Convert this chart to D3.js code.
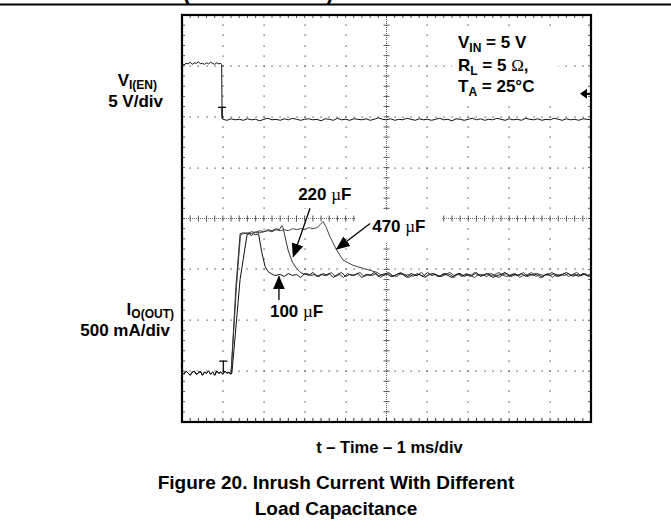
<!DOCTYPE html>
<html>
<head>
<meta charset="utf-8">
<script src="https://cdn.jsdelivr.net/npm/d3@7"></script>
<style>
  body { margin: 0; background: #fff; }
  svg text { font-family: "Liberation Sans", Arial, Helvetica, sans-serif; font-weight: bold; fill: #000; }
  svg .serif { font-family: "Liberation Serif", "Times New Roman", serif; font-weight: normal; }
</style>
</head>
<body>
<script>
"use strict";

// scope settings: 10 x 8 divisions, 1 ms/div
var timeDomain = [0, 10];
var divDomain = [0, 8];
var vPerDiv = 5, vZeroDiv = 5.97;      // V_I(EN), 5 V/div
var iPerDiv = 0.5, iZeroDiv = 0.96;    // I_O(OUT), 500 mA/div
var trigTime = 0.98;
var trigLevel = 2.4;                   // V

// V_I(EN) trace [ms, V]
var vEn = [
  [0,5.3],[0.05,5.25],[0.1,5.4],[0.15,5.35],[0.2,5.5],[0.25,5.3],[0.3,5.45],[0.35,5.4],[0.4,5.55],[0.45,5.35],
  [0.5,5.4],[0.55,5.3],[0.6,5.45],[0.65,5.35],[0.7,5.5],[0.75,5.4],[0.8,5.3],[0.85,5.45],[0.9,5.35],[0.95,5.4],
  [0.97,5.3],[0.98,0.2],[1.0,-0.1],
  [1.1,-0.2],[1.2,-0.05],[1.3,-0.15],[1.4,-0.1],[1.5,-0.2],[1.6,-0.05],[1.7,-0.15],[1.8,-0.1],[1.9,-0.25],[2.0,-0.1],
  [2.1,0.0],[2.2,-0.15],[2.3,-0.1],[2.4,-0.2],[2.5,-0.05],[2.6,-0.15],[2.7,0.0],[2.8,-0.1],[2.9,-0.2],[3.0,-0.1],
  [3.1,-0.05],[3.2,-0.15],[3.3,-0.1],[3.4,-0.25],[3.5,-0.05],[3.6,-0.1],[3.7,-0.2],[3.8,0.0],[3.9,-0.15],[4.0,-0.1],
  [4.1,-0.2],[4.2,-0.05],[4.3,-0.1],[4.4,-0.15],[4.5,-0.05],[4.6,-0.2],[4.7,-0.1],[4.8,0.05],[4.9,-0.1],[5.0,-0.15],
  [5.1,-0.05],[5.2,-0.2],[5.3,-0.1],[5.4,-0.15],[5.5,0.0],[5.6,-0.1],[5.7,-0.2],[5.8,-0.05],[5.9,-0.15],[6.0,-0.1],
  [6.1,-0.2],[6.2,-0.1],[6.3,0.0],[6.4,-0.15],[6.5,-0.1],[6.6,-0.25],[6.7,-0.05],[6.8,-0.1],[6.9,-0.2],[7.0,-0.1],
  [7.1,0.0],[7.2,-0.15],[7.3,-0.05],[7.4,-0.2],[7.5,-0.1],[7.6,-0.15],[7.7,0.0],[7.8,-0.1],[7.9,-0.2],[8.0,-0.05],
  [8.1,-0.15],[8.2,-0.1],[8.3,-0.2],[8.4,0.0],[8.5,-0.1],[8.6,-0.15],[8.7,-0.05],[8.8,-0.2],[8.9,-0.1],[9.0,-0.15],
  [9.1,0.0],[9.2,-0.1],[9.3,-0.2],[9.4,-0.05],[9.5,-0.15],[9.6,-0.1],[9.7,-0.2],[9.8,-0.05],[9.9,-0.1],[10,-0.15]
];

// I_O(OUT) before the switch turns on [ms, A]
var iBase = [
  [0,0.01],[0.05,-0.01],[0.1,0.02],[0.15,0],[0.2,-0.02],[0.25,0.01],[0.3,0.02],[0.35,-0.01],[0.4,0],[0.45,0.02],
  [0.5,-0.02],[0.55,0.01],[0.6,0],[0.65,0.02],[0.7,-0.01],[0.75,0.01],[0.8,-0.02],[0.85,0.02],[0.9,0],[0.95,0.01],
  [1.0,-0.01],[1.05,0.02],[1.1,0],[1.15,0.01],[1.19,-0.01]
];

// 100 uF
var i100 = [
  [1.22,0],[1.42,0.92],[1.59,1.36],[1.65,1.37],[1.7,1.35],[1.75,1.37],[1.8,1.36],[1.87,1.37],
  [1.95,1.19],[2.03,1.05],[2.1,1.0],[2.17,0.98],[2.27,0.96],
  [2.4,0.97],[2.5,0.95],[2.6,0.98],[2.7,0.96],[2.8,0.97],[2.9,0.94],[3.0,0.98],[3.1,0.96],[3.2,0.99],[3.3,0.95],
  [3.4,0.97],[3.5,0.96],[3.6,0.98],[3.7,0.94],[3.8,0.97],[3.9,0.99],[4.0,0.95],[4.1,0.97],[4.2,0.96],[4.3,0.98],
  [4.4,0.94],[4.5,0.97],[4.6,0.96],[4.7,0.99],[4.8,0.95],[4.9,0.97],[5.0,0.98],[5.1,0.95],[5.2,0.96],[5.3,0.98],
  [5.4,0.97],[5.5,0.94],[5.6,0.98],[5.7,0.96],[5.8,0.97],[5.9,0.95],[6.0,0.99],[6.1,0.96],[6.2,0.97],[6.3,0.95],
  [6.4,0.98],[6.5,0.96],[6.6,0.94],[6.7,0.97],[6.8,0.98],[6.9,0.95],[7.0,0.97],[7.1,0.96],[7.2,0.99],[7.3,0.95],
  [7.4,0.97],[7.5,0.98],[7.6,0.94],[7.7,0.96],[7.8,0.97],[7.9,0.99],[8.0,0.95],[8.1,0.97],[8.2,0.96],[8.3,0.98],
  [8.4,0.95],[8.5,0.97],[8.6,0.96],[8.7,0.98],[8.8,0.94],[8.9,0.97],[9.0,0.96],[9.1,0.98],[9.2,0.95],[9.3,0.97],
  [9.4,0.99],[9.5,0.96],[9.6,0.97],[9.7,0.95],[9.8,0.98],[9.9,0.96],[10,0.97]
];

// 220 uF
var i220 = [
  [1.2,0],[1.32,0.86],[1.42,1.37],[1.5,1.38],[1.6,1.37],[1.7,1.39],[1.8,1.38],[1.9,1.4],[2.0,1.39],[2.1,1.41],
  [2.2,1.4],[2.3,1.42],[2.38,1.41],[2.44,1.45],[2.47,1.43],[2.52,1.34],[2.6,1.2],[2.7,1.09],[2.8,1.03],[2.9,0.99],
  [3.0,0.97],[3.05,0.98],[3.15,0.96],[3.25,0.97],[3.35,0.95],[3.45,0.98],[3.55,0.96],[3.65,0.99],[3.75,0.95],[3.85,0.97],
  [3.95,0.94],[4.05,0.98],[4.15,0.96],[4.25,0.97],[4.35,0.99],[4.45,0.95],[4.55,0.97],[4.65,0.96],[4.75,0.98],[4.85,0.94],
  [4.95,0.97],[5.05,0.99],[5.15,0.96],[5.25,0.95],[5.35,0.98],[5.45,0.97],[5.55,0.94],[5.65,0.97],[5.75,0.96],[5.85,0.99],
  [5.95,0.95],[6.05,0.97],[6.15,0.98],[6.25,0.95],[6.35,0.96],[6.45,0.98],[6.55,0.97],[6.65,0.94],[6.75,0.98],[6.85,0.96],
  [6.95,0.97],[7.05,0.95],[7.15,0.99],[7.25,0.96],[7.35,0.97],[7.45,0.95],[7.55,0.98],[7.65,0.96],[7.75,0.94],[7.85,0.97],
  [7.95,0.98],[8.05,0.95],[8.15,0.97],[8.25,0.96],[8.35,0.99],[8.45,0.95],[8.55,0.97],[8.65,0.98],[8.75,0.94],[8.85,0.96],
  [8.95,0.97],[9.05,0.99],[9.15,0.95],[9.25,0.97],[9.35,0.96],[9.45,0.98],[9.55,0.95],[9.65,0.97],[9.75,0.96],[9.85,0.98],
  [9.95,0.95],[10,0.97]
];

// 470 uF
var i470 = [
  [1.2,0],[1.33,0.84],[1.43,1.36],[1.5,1.37],[1.6,1.38],[1.7,1.37],[1.8,1.39],[1.9,1.38],[2.0,1.39],[2.1,1.4],
  [2.2,1.39],[2.3,1.41],[2.4,1.4],[2.5,1.41],[2.6,1.4],[2.7,1.42],[2.8,1.41],[2.9,1.42],[3.0,1.41],[3.1,1.43],
  [3.2,1.42],[3.3,1.43],[3.38,1.46],[3.45,1.49],[3.52,1.44],[3.62,1.34],[3.78,1.21],[3.94,1.11],[4.18,1.06],[4.43,1.03],
  [4.6,1.01],[4.77,0.99],[4.85,0.97],[4.95,0.96],[5.05,0.98],[5.15,0.95],[5.25,0.97],[5.35,0.99],[5.45,0.96],[5.55,0.97],
  [5.65,0.95],[5.75,0.98],[5.85,0.96],[5.95,0.94],[6.05,0.97],[6.15,0.98],[6.25,0.96],[6.35,0.95],[6.45,0.97],[6.55,0.99],
  [6.65,0.96],[6.75,0.97],[6.85,0.95],[6.95,0.98],[7.05,0.96],[7.15,0.94],[7.25,0.97],[7.35,0.96],[7.45,0.98],[7.55,0.95],
  [7.65,0.97],[7.75,0.99],[7.85,0.96],[7.95,0.95],[8.05,0.97],[8.15,0.98],[8.25,0.94],[8.35,0.96],[8.45,0.97],[8.55,0.99],
  [8.65,0.95],[8.75,0.97],[8.85,0.96],[8.95,0.98],[9.05,0.94],[9.15,0.97],[9.25,0.96],[9.35,0.98],[9.45,0.95],[9.55,0.97],
  [9.65,0.99],[9.75,0.96],[9.85,0.97],[9.95,0.95],[10,0.96]
];

// labels: value text, label start [ms, A], arrow tail and tip [ms, A]
var capNames = ['100', '220', '470'];
var capLabelAt = [[2.15, 0.555], [2.84, 1.70], [4.65, 1.39]];
var capArrowTail = [[2.37, 0.72], [3.13, 1.62], [4.60, 1.47]];
var capArrowTip = [[2.37, 0.95], [2.72, 1.145], [3.78, 1.22]];

// white box padding round each label [left, right, top, bottom], px
var capPad = [[10, 18, 3, 6], [5, 17, 5, 4], [17, 17, 6, 7]];

var width = 671, height = 529;
var margin = { top: 15, right: 80, bottom: 107, left: 182 };

var svg = d3.select('body').append('svg')
  .attr('width', width)
  .attr('height', height);

var x = d3.scaleLinear()
  .domain(timeDomain)
  .range([margin.left, width - margin.right]);

var yDiv = d3.scaleLinear()
  .domain(divDomain)
  .range([height - margin.bottom, margin.top]);

var yV = d3.scaleLinear()
  .domain([-vZeroDiv * vPerDiv, (divDomain[1] - vZeroDiv) * vPerDiv])
  .range(yDiv.range());

var yI = d3.scaleLinear()
  .domain([-iZeroDiv * iPerDiv, (divDomain[1] - iZeroDiv) * iPerDiv])
  .range(yDiv.range());

// page header remains (cut off at top)
svg.append('line')
  .attr('x1', 0).attr('x2', width)
  .attr('y1', 4.5).attr('y2', 4.5)
  .attr('stroke', '#000').attr('stroke-width', 2);
svg.append('text').attr('x', 183).attr('y', 0).style('font-size', '22px').text('(');
svg.append('text').attr('x', 326).attr('y', 0).style('font-size', '22px').text(')');

// graticule
var grid = svg.append('g').attr('class', 'graticule');
var dots = [];
d3.range(1, 8).forEach(function (r) {
  if (r === 4) { return; }
  d3.range(51).forEach(function (k) { dots.push([k * 0.2, r]); });
});
d3.range(1, 10).forEach(function (c) {
  if (c === 5) { return; }
  d3.range(41).forEach(function (k) { dots.push([c, k * 0.2]); });
});
grid.selectAll('rect.dot')
  .data(dots)
  .join('rect')
  .attr('class', 'dot')
  .attr('x', function (d) { return Math.round(x(d[0])) - 0.5; })
  .attr('y', function (d) { return Math.round(yDiv(d[1])) - 0.5; })
  .attr('width', 1.2)
  .attr('height', 1.2)
  .attr('fill', '#444');

// center cross with minor ticks
var cy = yDiv(4), cx = x(5);
grid.append('line')
  .attr('x1', x(0)).attr('x2', x(10)).attr('y1', cy).attr('y2', cy)
  .attr('stroke', '#666').attr('stroke-dasharray', '1,1');
grid.append('line')
  .attr('x1', cx).attr('x2', cx).attr('y1', yDiv(0)).attr('y2', yDiv(8))
  .attr('stroke', '#666').attr('stroke-dasharray', '1,1');
grid.selectAll('line.hTick')
  .data(d3.range(51))
  .join('line')
  .attr('class', 'hTick')
  .attr('x1', function (k) { return x(k * 0.2); })
  .attr('x2', function (k) { return x(k * 0.2); })
  .attr('y1', cy - 3).attr('y2', cy + 3)
  .attr('stroke', '#555');
grid.selectAll('line.vTick')
  .data(d3.range(41))
  .join('line')
  .attr('class', 'vTick')
  .attr('y1', function (k) { return yDiv(k * 0.2); })
  .attr('y2', function (k) { return yDiv(k * 0.2); })
  .attr('x1', cx - 3).attr('x2', cx + 3)
  .attr('stroke', '#555');

// border ticks
grid.selectAll('line.bTick')
  .data(d3.range(51))
  .join('line')
  .attr('class', 'bTick')
  .attr('x1', function (k) { return x(k * 0.2); })
  .attr('x2', function (k) { return x(k * 0.2); })
  .attr('y1', yDiv(0)).attr('y2', yDiv(0) - 4)
  .attr('stroke', '#333');
grid.selectAll('line.tTick')
  .data(d3.range(51))
  .join('line')
  .attr('class', 'tTick')
  .attr('x1', function (k) { return x(k * 0.2); })
  .attr('x2', function (k) { return x(k * 0.2); })
  .attr('y1', yDiv(8)).attr('y2', yDiv(8) + 3)
  .attr('stroke', '#555');
grid.selectAll('line.lTick')
  .data(d3.range(41))
  .join('line')
  .attr('class', 'lTick')
  .attr('y1', function (k) { return yDiv(k * 0.2); })
  .attr('y2', function (k) { return yDiv(k * 0.2); })
  .attr('x1', x(0)).attr('x2', x(0) + 3)
  .attr('stroke', '#555');
grid.selectAll('line.rTick')
  .data(d3.range(41))
  .join('line')
  .attr('class', 'rTick')
  .attr('y1', function (k) { return yDiv(k * 0.2); })
  .attr('y2', function (k) { return yDiv(k * 0.2); })
  .attr('x1', x(10)).attr('x2', x(10) - 3)
  .attr('stroke', '#555');

// white boxes behind annotations are drawn after the text is measured
var boxLayer = svg.append('g');

// traces
var lineV = d3.line()
  .x(function (d) { return x(d[0]); })
  .y(function (d) { return yV(d[1]); });
var lineI = d3.line()
  .x(function (d) { return x(d[0]); })
  .y(function (d) { return yI(d[1]); });

var traces = svg.append('g').attr('fill', 'none').attr('stroke-width', 1);
traces.append('path').attr('d', lineV(vEn)).attr('stroke', '#111');
traces.append('path').attr('d', lineI(iBase.concat(i470))).attr('stroke', '#444');
traces.append('path').attr('d', lineI(iBase.concat(i220))).attr('stroke', '#333');
traces.append('path').attr('d', lineI(iBase.concat(i100))).attr('stroke', '#111');

// trigger position markers
function drawT(px, py) {
  svg.append('path')
    .attr('d', 'M' + (px - 4) + ',' + (py - 11) + 'H' + (px + 4) + 'M' + px + ',' + (py - 11) + 'V' + py)
    .attr('stroke', '#000').attr('stroke-width', 1.2).attr('fill', 'none');
}
drawT(x(trigTime), yV(0));
drawT(x(trigTime + 0.03), yI(0) - 1);

// trigger level arrow at right edge
var ty = yV(trigLevel);
svg.append('path')
  .attr('d', 'M' + (x(10) - 11) + ',' + ty + 'L' + (x(10) - 4) + ',' + (ty - 5) + 'L' + (x(10) - 4) + ',' + (ty + 5) + 'Z')
  .attr('fill', '#000');
svg.append('line')
  .attr('x1', x(10) - 6).attr('x2', x(10)).attr('y1', ty).attr('y2', ty)
  .attr('stroke', '#000').attr('stroke-width', 2);

// frame
svg.append('rect')
  .attr('x', x(0)).attr('y', yDiv(8))
  .attr('width', x(10) - x(0)).attr('height', yDiv(0) - yDiv(8))
  .attr('fill', 'none').attr('stroke', '#000').attr('stroke-width', 2.2);

// conditions box
var cond = svg.append('g').style('font-size', '17px');
var c1 = cond.append('text').attr('x', 458).attr('y', 48);
c1.append('tspan').text('V');
c1.append('tspan').attr('dy', 3.5).style('font-size', '12px').text('IN');
c1.append('tspan').attr('dy', -3.5).text(' = 5 V');
var c2 = cond.append('text').attr('x', 458).attr('y', 71);
c2.append('tspan').text('R');
c2.append('tspan').attr('dy', 3.5).style('font-size', '12px').text('L');
c2.append('tspan').attr('dy', -3.5).text(' = 5 ');
c2.append('tspan').attr('class', 'serif').text('\u03A9');
c2.append('tspan').text(',');
var c3 = cond.append('text').attr('x', 458).attr('y', 92);
c3.append('tspan').text('T');
c3.append('tspan').attr('dy', 3.5).style('font-size', '12px').text('A');
c3.append('tspan').attr('dy', -3.5).text(' = 25\u00B0C');

var cb = cond.node().getBBox();
boxLayer.append('rect')
  .attr('x', cb.x - 6).attr('y', cb.y - 5)
  .attr('width', cb.width + 30).attr('height', cb.height + 8)
  .attr('fill', '#fff');

// capacitance labels with arrows
var defs = svg.append('defs');
defs.append('marker')
  .attr('id', 'head')
  .attr('viewBox', '0 0 14 12')
  .attr('markerUnits', 'userSpaceOnUse')
  .attr('markerWidth', 14).attr('markerHeight', 12)
  .attr('refX', 13).attr('refY', 6)
  .attr('orient', 'auto')
  .append('path').attr('d', 'M0,0L14,6L0,12Z').attr('fill', '#000');

capNames.forEach(function (name, i) {
  var t = svg.append('text')
    .attr('x', x(capLabelAt[i][0]))
    .attr('y', yI(capLabelAt[i][1]))
    .style('font-size', '17px');
  t.append('tspan').text(name + ' ');
  t.append('tspan').attr('class', 'serif').text('\u00B5');
  t.append('tspan').text('F');

  var b = t.node().getBBox();
  var p = capPad[i];
  boxLayer.append('rect')
    .attr('x', b.x - p[0]).attr('y', b.y - p[2])
    .attr('width', b.width + p[0] + p[1]).attr('height', b.height + p[2] + p[3])
    .attr('fill', '#fff');

  svg.append('line')
    .attr('x1', x(capArrowTail[i][0])).attr('y1', yI(capArrowTail[i][1]))
    .attr('x2', x(capArrowTip[i][0])).attr('y2', yI(capArrowTip[i][1]))
    .attr('stroke', '#000').attr('stroke-width', 1.3)
    .attr('marker-end', 'url(#head)');
});

// channel labels
var chan = svg.append('g').style('font-size', '17px').attr('text-anchor', 'end');
var vl = chan.append('text').attr('x', 157).attr('y', 86);
vl.append('tspan').text('V');
vl.append('tspan').attr('dy', 2.5).style('font-size', '12px').text('I(EN)');
chan.append('text').attr('x', 163).attr('y', 107).text('5 V/div');
var il = chan.append('text').attr('x', 174).attr('y', 315);
il.append('tspan').text('I');
il.append('tspan').attr('dy', 2.5).style('font-size', '12px').text('O(OUT)');
chan.append('text').attr('x', 170).attr('y', 336).text('500 mA/div');

// axis title and caption
svg.append('text')
  .attr('x', x(5) + 3).attr('y', 453)
  .attr('text-anchor', 'middle')
  .style('font-size', '16.5px')
  .text('t \u2013 Time \u2013 1 ms/div');
svg.append('text')
  .attr('x', 336).attr('y', 489)
  .attr('text-anchor', 'middle')
  .style('font-size', '19px')
  .text('Figure 20. Inrush Current With Different');
svg.append('text')
  .attr('x', 336).attr('y', 515)
  .attr('text-anchor', 'middle')
  .style('font-size', '19px')
  .text('Load Capacitance');
</script>
</body>
</html>
